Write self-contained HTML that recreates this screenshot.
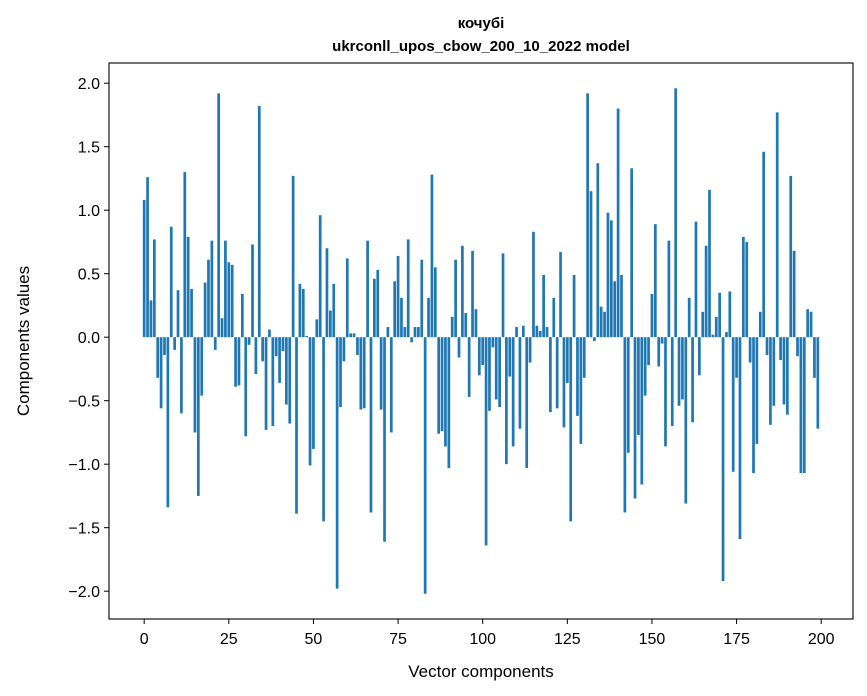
<!DOCTYPE html>
<html><head><meta charset="utf-8"><style>
body{margin:0;background:#fff;}
svg{display:block;font-family:"Liberation Sans","DejaVu Sans",sans-serif;}
</style></head><body>
<svg id="chart" width="867" height="696">
<text x="481" y="28" text-anchor="middle" font-size="15" font-weight="bold">кочубі</text>
<text x="481" y="51" text-anchor="middle" font-size="15" font-weight="bold">ukrconll_upos_cbow_200_10_2022 model</text>
<g id="bars"></g>
<g id="axes"></g>
<text x="481" y="677" text-anchor="middle" font-size="17">Vector components</text>
<text transform="translate(29,341) rotate(-90)" text-anchor="middle" font-size="17">Components values</text>
</svg>
<script>
const values = [1.08,1.26,0.29,0.77,-0.32,-0.56,-0.14,-1.34,0.87,-0.10,0.37,-0.60,1.30,0.79,0.38,-0.75,-1.25,-0.46,0.43,0.61,
0.76,-0.10,1.92,0.15,0.76,0.59,0.57,-0.39,-0.38,0.34,-0.78,-0.06,0.73,-0.29,1.82,-0.19,-0.73,0.06,-0.70,-0.15,
-0.36,-0.11,-0.53,-0.68,1.27,-1.39,0.42,0.38,0.01,-1.01,-0.88,0.14,0.96,-1.45,0.70,0.21,0.42,-1.98,-0.55,-0.19,
0.62,0.03,0.03,-0.14,-0.57,-0.56,0.76,-1.38,0.46,0.53,-0.57,-1.61,0.08,-0.75,0.44,0.64,0.31,0.08,0.77,-0.04,
0.08,0.08,0.61,-2.02,0.31,1.28,0.55,-0.76,-0.74,-0.86,-1.03,0.16,0.61,-0.16,0.72,0.19,-0.47,0.68,0.22,-0.30,
-0.22,-1.64,-0.58,-0.08,-0.49,-0.55,0.66,-1.00,-0.31,-0.86,0.08,-0.72,0.09,-1.03,-0.20,0.83,0.09,0.05,0.49,0.08,
-0.59,0.31,-0.56,0.67,-0.71,-0.36,-1.45,0.49,-0.62,-0.84,-0.32,1.92,1.15,-0.03,1.37,0.24,0.20,0.98,0.92,0.44,
1.80,0.49,-1.38,-0.91,1.33,-1.27,-0.77,-1.16,-0.46,-0.22,0.34,0.89,-0.23,-0.05,-0.86,0.76,-0.70,1.96,-0.54,-0.49,
-1.31,0.31,-0.67,0.91,-0.30,0.20,0.72,1.16,0.02,0.16,0.35,-1.92,0.04,0.36,-1.06,-0.32,-1.59,0.79,0.75,-0.20,
-1.07,-0.84,0.20,1.46,-0.14,-0.69,-0.54,1.77,-0.18,-0.53,-0.61,1.27,0.68,-0.15,-1.07,-1.07,0.22,0.20,-0.32,-0.72];
const xTicks = [0,25,50,75,100,125,150,175,200];
const yTicks = [-2.0,-1.5,-1.0,-0.5,0.0,0.5,1.0,1.5,2.0];

const L=109,R=853,T=63,B=619;
const n=values.length;
const vmin=Math.min(...values), vmax=Math.max(...values);
const xlo=-0.4, xhi=n-1+0.4, xm=(xhi-xlo)*0.05;
const ylo=vmin-(vmax-vmin)*0.05, yhi=vmax+(vmax-vmin)*0.05;
const xs=v=>L+(v-(xlo-xm))/((xhi+xm)-(xlo-xm))*(R-L);
const ys=v=>B-(v-ylo)/(yhi-ylo)*(B-T);
const NS="http://www.w3.org/2000/svg";
const bars=document.getElementById('bars');
values.forEach((v,i)=>{
  const r=document.createElementNS(NS,'rect');
  const x0=xs(i-0.4), x1=xs(i+0.4);
  const y0=ys(Math.max(v,0)), y1=ys(Math.min(v,0));
  r.setAttribute('x',x0);r.setAttribute('width',x1-x0);
  r.setAttribute('y',y0);r.setAttribute('height',Math.max(y1-y0,0.3));
  r.setAttribute('fill','#1f77b4');
  
  
  bars.appendChild(r);
});
const ax=document.getElementById('axes');
const frame=document.createElementNS(NS,'rect');
frame.setAttribute('x',L);frame.setAttribute('y',T);frame.setAttribute('width',R-L);frame.setAttribute('height',B-T);
frame.setAttribute('fill','none');frame.setAttribute('stroke','#000');frame.setAttribute('stroke-width','1.1');


ax.appendChild(frame);
xTicks.forEach(t=>{
  const x=xs(t);
  const l=document.createElementNS(NS,'line');
  l.setAttribute('x1',x);l.setAttribute('x2',x);l.setAttribute('y1',B);l.setAttribute('y2',B+5);l.setAttribute('stroke','#000');
  
  
  ax.appendChild(l);
  const tx=document.createElementNS(NS,'text');
  tx.setAttribute('x',x);tx.setAttribute('y',B+25);tx.setAttribute('text-anchor','middle');tx.setAttribute('font-size','16');
  tx.textContent=t;
  
  
  ax.appendChild(tx);
});
yTicks.forEach(t=>{
  const y=ys(t);
  const l=document.createElementNS(NS,'line');
  l.setAttribute('x1',L-5);l.setAttribute('x2',L);l.setAttribute('y1',y);l.setAttribute('y2',y);l.setAttribute('stroke','#000');
  
  
  ax.appendChild(l);
  const tx=document.createElementNS(NS,'text');
  tx.setAttribute('x',L-9);tx.setAttribute('y',y+6);tx.setAttribute('text-anchor','end');tx.setAttribute('font-size','16');
  tx.textContent=(t<0?'\u2212':'')+Math.abs(t).toFixed(1);
  
  
  ax.appendChild(tx);
});
</script>
</body></html>
